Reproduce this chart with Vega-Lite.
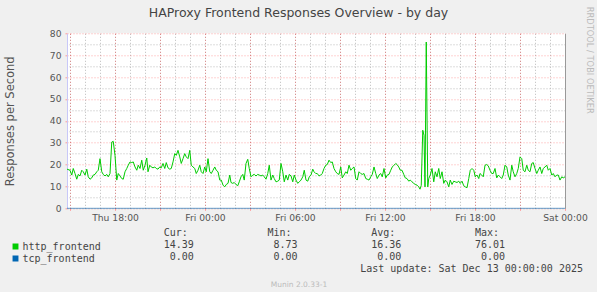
{
"$schema": "https://vega.github.io/schema/vega-lite/v6.json",
"autosize": {"type": "none"},
"width": 498,
"height": 175,
"padding": {"left": 67, "top": 33.3, "right": 32, "bottom": 83.7},
"background": "#F0F0F0",
"config": {"view": {"stroke": null, "fill": "#FFFFFF"}, "font": "DejaVu Sans"},
"title": {"text": "HAProxy Frontend Responses Overview - by day", "fontSize": 12.5, "fontWeight": "normal", "color": "#444444", "font": "DejaVu Sans", "anchor": "middle", "frame": "group", "dx": -17.5, "baseline": "alphabetic", "offset": -23},
"datasets": {
"tcp": [{"t": "2025-12-11T14:48:00Z", "v": 0}, {"t": "2025-12-13T00:00:00Z", "v": 0}],
"http": [
{"t":"2025-12-11T14:48:00Z","v":17.9},{"t":"2025-12-11T15:00:00Z","v":17.4},{"t":"2025-12-11T15:07:00Z","v":15.2},{"t":"2025-12-11T15:13:00Z","v":18.2},{"t":"2025-12-11T15:20:00Z","v":15.9},{"t":"2025-12-11T15:27:00Z","v":13.3},{"t":"2025-12-11T15:33:00Z","v":15.5},{"t":"2025-12-11T15:40:00Z","v":14.8},{"t":"2025-12-11T15:47:00Z","v":17.4},{"t":"2025-12-11T15:53:00Z","v":16.7},
{"t":"2025-12-11T16:00:00Z","v":15.2},{"t":"2025-12-11T16:07:00Z","v":17.9},{"t":"2025-12-11T16:13:00Z","v":14.4},{"t":"2025-12-11T16:20:00Z","v":13.3},{"t":"2025-12-11T16:27:00Z","v":13.9},{"t":"2025-12-11T16:33:00Z","v":15.2},{"t":"2025-12-11T16:40:00Z","v":15.5},{"t":"2025-12-11T16:47:00Z","v":16.7},{"t":"2025-12-11T16:53:00Z","v":17.4},
{"t":"2025-12-11T17:00:00Z","v":22.7},{"t":"2025-12-11T17:07:00Z","v":16.7},{"t":"2025-12-11T17:13:00Z","v":15.5},{"t":"2025-12-11T17:20:00Z","v":14.8},{"t":"2025-12-11T17:27:00Z","v":15.5},{"t":"2025-12-11T17:33:00Z","v":14.4},{"t":"2025-12-11T17:40:00Z","v":15.9},{"t":"2025-12-11T17:47:00Z","v":30.3},{"t":"2025-12-11T17:53:00Z","v":30.6},
{"t":"2025-12-11T18:00:00Z","v":24.2},{"t":"2025-12-11T18:07:00Z","v":12.9},{"t":"2025-12-11T18:13:00Z","v":15.9},{"t":"2025-12-11T18:20:00Z","v":14.8},{"t":"2025-12-11T18:27:00Z","v":13.6},{"t":"2025-12-11T18:33:00Z","v":13.3},{"t":"2025-12-11T18:40:00Z","v":16.7},{"t":"2025-12-11T18:47:00Z","v":18.2},{"t":"2025-12-11T18:53:00Z","v":19.7},
{"t":"2025-12-11T19:00:00Z","v":21.2},{"t":"2025-12-11T19:07:00Z","v":20.9},{"t":"2025-12-11T19:13:00Z","v":21.2},{"t":"2025-12-11T19:20:00Z","v":18.9},{"t":"2025-12-11T19:27:00Z","v":17.4},{"t":"2025-12-11T19:33:00Z","v":19.7},{"t":"2025-12-11T19:40:00Z","v":18.2},{"t":"2025-12-11T19:47:00Z","v":22},{"t":"2025-12-11T19:53:00Z","v":17.4},
{"t":"2025-12-11T20:00:00Z","v":19.7},{"t":"2025-12-11T20:07:00Z","v":23},{"t":"2025-12-11T20:12:00Z","v":16.7},{"t":"2025-12-11T20:19:00Z","v":19.7},{"t":"2025-12-11T20:25:00Z","v":18.9},{"t":"2025-12-11T20:32:00Z","v":18.5},{"t":"2025-12-11T20:39:00Z","v":18.9},{"t":"2025-12-11T20:45:00Z","v":18.2},{"t":"2025-12-11T20:52:00Z","v":17.9},{"t":"2025-12-11T20:59:00Z","v":18.9},
{"t":"2025-12-11T21:05:00Z","v":18.5},{"t":"2025-12-11T21:12:00Z","v":20.5},{"t":"2025-12-11T21:19:00Z","v":18.2},{"t":"2025-12-11T21:25:00Z","v":20.9},{"t":"2025-12-11T21:32:00Z","v":18.5},{"t":"2025-12-11T21:39:00Z","v":17.9},{"t":"2025-12-11T21:45:00Z","v":18.2},{"t":"2025-12-11T21:52:00Z","v":21.2},{"t":"2025-12-11T21:59:00Z","v":25},
{"t":"2025-12-11T22:05:00Z","v":24.2},{"t":"2025-12-11T22:12:00Z","v":26.5},{"t":"2025-12-11T22:19:00Z","v":23.5},{"t":"2025-12-11T22:25:00Z","v":20.5},{"t":"2025-12-11T22:32:00Z","v":22.7},{"t":"2025-12-11T22:39:00Z","v":25},{"t":"2025-12-11T22:45:00Z","v":23.5},{"t":"2025-12-11T22:52:00Z","v":22.7},{"t":"2025-12-11T22:59:00Z","v":26.5},
{"t":"2025-12-11T23:05:00Z","v":19.7},{"t":"2025-12-11T23:12:00Z","v":18.9},{"t":"2025-12-11T23:19:00Z","v":18.2},{"t":"2025-12-11T23:25:00Z","v":15.9},{"t":"2025-12-11T23:32:00Z","v":17.4},{"t":"2025-12-11T23:39:00Z","v":19.7},{"t":"2025-12-11T23:45:00Z","v":16.7},{"t":"2025-12-11T23:52:00Z","v":15.9},{"t":"2025-12-11T23:59:00Z","v":18.9},
{"t":"2025-12-12T00:05:00Z","v":16.7},{"t":"2025-12-12T00:12:00Z","v":22.7},{"t":"2025-12-12T00:19:00Z","v":16.7},{"t":"2025-12-12T00:25:00Z","v":15.9},{"t":"2025-12-12T00:32:00Z","v":17.4},{"t":"2025-12-12T00:39:00Z","v":18.9},{"t":"2025-12-12T00:45:00Z","v":17.4},{"t":"2025-12-12T00:52:00Z","v":16.7},{"t":"2025-12-12T00:59:00Z","v":12.9},
{"t":"2025-12-12T01:05:00Z","v":12.9},{"t":"2025-12-12T01:12:00Z","v":10.6},{"t":"2025-12-12T01:19:00Z","v":9.8},{"t":"2025-12-12T01:25:00Z","v":10.9},{"t":"2025-12-12T01:32:00Z","v":11.4},{"t":"2025-12-12T01:39:00Z","v":15.2},{"t":"2025-12-12T01:44:00Z","v":11.8},{"t":"2025-12-12T01:51:00Z","v":11.4},{"t":"2025-12-12T01:57:00Z","v":11.8},
{"t":"2025-12-12T02:04:00Z","v":10.9},{"t":"2025-12-12T02:11:00Z","v":10.3},{"t":"2025-12-12T02:17:00Z","v":12.1},{"t":"2025-12-12T02:24:00Z","v":14.4},{"t":"2025-12-12T02:31:00Z","v":15.5},{"t":"2025-12-12T02:37:00Z","v":12.9},{"t":"2025-12-12T02:44:00Z","v":20.5},{"t":"2025-12-12T02:51:00Z","v":22.4},{"t":"2025-12-12T02:57:00Z","v":18.2},
{"t":"2025-12-12T03:04:00Z","v":14.4},{"t":"2025-12-12T03:11:00Z","v":15.2},{"t":"2025-12-12T03:17:00Z","v":15.5},{"t":"2025-12-12T03:24:00Z","v":14.8},{"t":"2025-12-12T03:31:00Z","v":15.5},{"t":"2025-12-12T03:37:00Z","v":15.2},{"t":"2025-12-12T03:44:00Z","v":14.8},{"t":"2025-12-12T03:51:00Z","v":15.2},{"t":"2025-12-12T03:57:00Z","v":14.4},
{"t":"2025-12-12T04:04:00Z","v":13.3},{"t":"2025-12-12T04:11:00Z","v":15.9},{"t":"2025-12-12T04:17:00Z","v":19.7},{"t":"2025-12-12T04:24:00Z","v":12.9},{"t":"2025-12-12T04:31:00Z","v":15.2},{"t":"2025-12-12T04:37:00Z","v":13.6},{"t":"2025-12-12T04:44:00Z","v":12.1},{"t":"2025-12-12T04:51:00Z","v":12.4},{"t":"2025-12-12T04:57:00Z","v":12.9},
{"t":"2025-12-12T05:04:00Z","v":20.5},{"t":"2025-12-12T05:11:00Z","v":16.7},{"t":"2025-12-12T05:17:00Z","v":12.1},{"t":"2025-12-12T05:24:00Z","v":15.2},{"t":"2025-12-12T05:31:00Z","v":12.9},{"t":"2025-12-12T05:37:00Z","v":15.5},{"t":"2025-12-12T05:44:00Z","v":14.8},{"t":"2025-12-12T05:51:00Z","v":12.1},{"t":"2025-12-12T05:57:00Z","v":15.2},
{"t":"2025-12-12T06:04:00Z","v":12.9},{"t":"2025-12-12T06:11:00Z","v":11.4},{"t":"2025-12-12T06:17:00Z","v":12.1},{"t":"2025-12-12T06:24:00Z","v":12.9},{"t":"2025-12-12T06:31:00Z","v":14.4},{"t":"2025-12-12T06:37:00Z","v":17.4},{"t":"2025-12-12T06:44:00Z","v":12.9},{"t":"2025-12-12T06:51:00Z","v":12.4},{"t":"2025-12-12T06:57:00Z","v":14.4},
{"t":"2025-12-12T07:04:00Z","v":15.2},{"t":"2025-12-12T07:11:00Z","v":17.9},{"t":"2025-12-12T07:16:00Z","v":16.7},{"t":"2025-12-12T07:23:00Z","v":15.9},{"t":"2025-12-12T07:29:00Z","v":15.9},{"t":"2025-12-12T07:36:00Z","v":14.8},{"t":"2025-12-12T07:43:00Z","v":15.2},{"t":"2025-12-12T07:49:00Z","v":15.9},{"t":"2025-12-12T07:56:00Z","v":18.2},
{"t":"2025-12-12T08:03:00Z","v":19.7},{"t":"2025-12-12T08:09:00Z","v":20},{"t":"2025-12-12T08:16:00Z","v":22},{"t":"2025-12-12T08:23:00Z","v":20.9},{"t":"2025-12-12T08:29:00Z","v":21.2},{"t":"2025-12-12T08:36:00Z","v":18.2},{"t":"2025-12-12T08:43:00Z","v":16.7},{"t":"2025-12-12T08:49:00Z","v":15.9},{"t":"2025-12-12T08:56:00Z","v":15.5},
{"t":"2025-12-12T09:03:00Z","v":18.9},{"t":"2025-12-12T09:09:00Z","v":13.9},{"t":"2025-12-12T09:16:00Z","v":15.2},{"t":"2025-12-12T09:23:00Z","v":16.7},{"t":"2025-12-12T09:29:00Z","v":15.9},{"t":"2025-12-12T09:36:00Z","v":19.7},{"t":"2025-12-12T09:43:00Z","v":17.4},{"t":"2025-12-12T09:49:00Z","v":18.2},{"t":"2025-12-12T09:56:00Z","v":18.9},
{"t":"2025-12-12T10:03:00Z","v":13.6},{"t":"2025-12-12T10:09:00Z","v":12.9},{"t":"2025-12-12T10:16:00Z","v":16.7},{"t":"2025-12-12T10:23:00Z","v":15.9},{"t":"2025-12-12T10:29:00Z","v":15.5},{"t":"2025-12-12T10:36:00Z","v":15.9},{"t":"2025-12-12T10:43:00Z","v":13.6},{"t":"2025-12-12T10:49:00Z","v":13.3},{"t":"2025-12-12T10:56:00Z","v":12.9},
{"t":"2025-12-12T11:03:00Z","v":14.4},{"t":"2025-12-12T11:09:00Z","v":15.5},{"t":"2025-12-12T11:16:00Z","v":18.9},{"t":"2025-12-12T11:23:00Z","v":15.9},{"t":"2025-12-12T11:29:00Z","v":13.6},{"t":"2025-12-12T11:36:00Z","v":15.2},{"t":"2025-12-12T11:43:00Z","v":15.9},{"t":"2025-12-12T11:49:00Z","v":14.4},{"t":"2025-12-12T11:56:00Z","v":18.2},
{"t":"2025-12-12T12:03:00Z","v":13.9},{"t":"2025-12-12T12:09:00Z","v":15.2},{"t":"2025-12-12T12:16:00Z","v":15.5},{"t":"2025-12-12T12:23:00Z","v":17.4},{"t":"2025-12-12T12:29:00Z","v":18.9},{"t":"2025-12-12T12:36:00Z","v":19.7},{"t":"2025-12-12T12:43:00Z","v":20.5},{"t":"2025-12-12T12:48:00Z","v":20},{"t":"2025-12-12T12:55:00Z","v":18.9},
{"t":"2025-12-12T13:01:00Z","v":17.4},{"t":"2025-12-12T13:08:00Z","v":17.4},{"t":"2025-12-12T13:15:00Z","v":15.5},{"t":"2025-12-12T13:21:00Z","v":13.9},{"t":"2025-12-12T13:28:00Z","v":13.6},{"t":"2025-12-12T13:35:00Z","v":12.4},{"t":"2025-12-12T13:41:00Z","v":12.9},{"t":"2025-12-12T13:48:00Z","v":12.1},{"t":"2025-12-12T13:55:00Z","v":11.4},
{"t":"2025-12-12T14:01:00Z","v":10.9},{"t":"2025-12-12T14:08:00Z","v":10.6},{"t":"2025-12-12T14:15:00Z","v":9.8},{"t":"2025-12-12T14:20:00Z","v":8.73},{"t":"2025-12-12T14:25:00Z","v":10.5},{"t":"2025-12-12T14:31:00Z","v":35.7},{"t":"2025-12-12T14:36:00Z","v":33.4},{"t":"2025-12-12T14:40:00Z","v":9.8},{"t":"2025-12-12T14:45:00Z","v":76.01},{"t":"2025-12-12T14:51:00Z","v":9.8},{"t":"2025-12-12T14:55:00Z","v":13.6},
{"t":"2025-12-12T15:01:00Z","v":15.2},{"t":"2025-12-12T15:08:00Z","v":18.2},{"t":"2025-12-12T15:15:00Z","v":12.1},{"t":"2025-12-12T15:21:00Z","v":16.7},{"t":"2025-12-12T15:28:00Z","v":14.4},{"t":"2025-12-12T15:35:00Z","v":18.2},{"t":"2025-12-12T15:41:00Z","v":13.6},{"t":"2025-12-12T15:48:00Z","v":16.7},{"t":"2025-12-12T15:55:00Z","v":11.4},
{"t":"2025-12-12T16:01:00Z","v":12.9},{"t":"2025-12-12T16:08:00Z","v":12.1},{"t":"2025-12-12T16:15:00Z","v":9.8},{"t":"2025-12-12T16:21:00Z","v":12.9},{"t":"2025-12-12T16:28:00Z","v":10.9},{"t":"2025-12-12T16:35:00Z","v":12.4},{"t":"2025-12-12T16:41:00Z","v":12.1},{"t":"2025-12-12T16:48:00Z","v":11.8},{"t":"2025-12-12T16:55:00Z","v":12.4},
{"t":"2025-12-12T17:01:00Z","v":11.4},{"t":"2025-12-12T17:08:00Z","v":12.4},{"t":"2025-12-12T17:15:00Z","v":10.3},{"t":"2025-12-12T17:21:00Z","v":9.8},{"t":"2025-12-12T17:28:00Z","v":9.4},{"t":"2025-12-12T17:35:00Z","v":13.6},{"t":"2025-12-12T17:41:00Z","v":17.4},{"t":"2025-12-12T17:48:00Z","v":18.2},{"t":"2025-12-12T17:55:00Z","v":17.4},
{"t":"2025-12-12T18:01:00Z","v":14.4},{"t":"2025-12-12T18:08:00Z","v":15.2},{"t":"2025-12-12T18:15:00Z","v":13.6},{"t":"2025-12-12T18:20:00Z","v":15.9},{"t":"2025-12-12T18:27:00Z","v":15.2},{"t":"2025-12-12T18:33:00Z","v":14.4},{"t":"2025-12-12T18:40:00Z","v":19.7},{"t":"2025-12-12T18:47:00Z","v":20},{"t":"2025-12-12T18:53:00Z","v":19.4},
{"t":"2025-12-12T19:00:00Z","v":17.4},{"t":"2025-12-12T19:07:00Z","v":15.9},{"t":"2025-12-12T19:13:00Z","v":15.9},{"t":"2025-12-12T19:20:00Z","v":18.2},{"t":"2025-12-12T19:27:00Z","v":13.9},{"t":"2025-12-12T19:33:00Z","v":15.2},{"t":"2025-12-12T19:40:00Z","v":14.4},{"t":"2025-12-12T19:47:00Z","v":13.6},{"t":"2025-12-12T19:53:00Z","v":15.2},
{"t":"2025-12-12T20:00:00Z","v":19.7},{"t":"2025-12-12T20:07:00Z","v":18.9},{"t":"2025-12-12T20:13:00Z","v":15.2},{"t":"2025-12-12T20:20:00Z","v":12.9},{"t":"2025-12-12T20:27:00Z","v":19.7},{"t":"2025-12-12T20:33:00Z","v":16.7},{"t":"2025-12-12T20:40:00Z","v":14.4},{"t":"2025-12-12T20:47:00Z","v":15.9},{"t":"2025-12-12T20:53:00Z","v":18.2},
{"t":"2025-12-12T21:00:00Z","v":23.5},{"t":"2025-12-12T21:07:00Z","v":22.7},{"t":"2025-12-12T21:13:00Z","v":17.4},{"t":"2025-12-12T21:20:00Z","v":16.7},{"t":"2025-12-12T21:27:00Z","v":19.7},{"t":"2025-12-12T21:33:00Z","v":17.4},{"t":"2025-12-12T21:40:00Z","v":16.7},{"t":"2025-12-12T21:47:00Z","v":20.5},{"t":"2025-12-12T21:53:00Z","v":20.9},
{"t":"2025-12-12T22:00:00Z","v":18.2},{"t":"2025-12-12T22:07:00Z","v":15.9},{"t":"2025-12-12T22:13:00Z","v":17.4},{"t":"2025-12-12T22:20:00Z","v":18.9},{"t":"2025-12-12T22:27:00Z","v":15.9},{"t":"2025-12-12T22:33:00Z","v":18.2},{"t":"2025-12-12T22:40:00Z","v":18.9},{"t":"2025-12-12T22:47:00Z","v":19.7},{"t":"2025-12-12T22:53:00Z","v":17.4},
{"t":"2025-12-12T23:00:00Z","v":18.2},{"t":"2025-12-12T23:07:00Z","v":15.2},{"t":"2025-12-12T23:13:00Z","v":15.9},{"t":"2025-12-12T23:20:00Z","v":14.4},{"t":"2025-12-12T23:27:00Z","v":15.2},{"t":"2025-12-12T23:33:00Z","v":15.2},{"t":"2025-12-12T23:40:00Z","v":12.9},{"t":"2025-12-12T23:47:00Z","v":14.4},{"t":"2025-12-12T23:53:00Z","v":13.9},
{"t":"2025-12-13T00:00:00Z","v":14.39}
],
"hdr": [{"s": "header", "k": "Cur", "txt": "Cur:"}, {"s": "header", "k": "Min", "txt": "Min:"}, {"s": "header", "k": "Avg", "txt": "Avg:"}, {"s": "header", "k": "Max", "txt": "Max:"}],
"vals": [
{"s": "http_frontend", "k": "Cur", "txt": "14.39"}, {"s": "http_frontend", "k": "Min", "txt": "8.73"}, {"s": "http_frontend", "k": "Avg", "txt": "16.36"}, {"s": "http_frontend", "k": "Max", "txt": "76.01"},
{"s": "tcp_frontend", "k": "Cur", "txt": "0.00"}, {"s": "tcp_frontend", "k": "Min", "txt": "0.00"}, {"s": "tcp_frontend", "k": "Avg", "txt": "0.00"}, {"s": "tcp_frontend", "k": "Max", "txt": "0.00"}
],
"upd": [{"s": "update", "k": "Max", "txt": "Last update: Sat Dec 13 00:00:00 2025"}]
},
"layer": [
{
"layer": [
{
"data": {"name": "tcp"},
"mark": {"type": "line", "strokeWidth": 1, "strokeOpacity": 0.6},
"encoding": {
"x": {"field": "t", "type": "temporal",
"scale": {"type": "utc", "nice": false, "domain": [{"year": 2025, "month": 12, "date": 11, "hours": 14, "minutes": 48, "utc": true}, {"year": 2025, "month": 12, "date": 13, "hours": 0, "minutes": 0, "utc": true}]},
"axis": {"orient": "top", "values": [
{"year":2025,"month":12,"date":11,"hours":15,"utc":true},{"year":2025,"month":12,"date":11,"hours":16,"utc":true},{"year":2025,"month":12,"date":11,"hours":17,"utc":true},{"year":2025,"month":12,"date":11,"hours":18,"utc":true},{"year":2025,"month":12,"date":11,"hours":19,"utc":true},{"year":2025,"month":12,"date":11,"hours":20,"utc":true},{"year":2025,"month":12,"date":11,"hours":21,"utc":true},{"year":2025,"month":12,"date":11,"hours":22,"utc":true},{"year":2025,"month":12,"date":11,"hours":23,"utc":true},
{"year":2025,"month":12,"date":12,"hours":0,"utc":true},{"year":2025,"month":12,"date":12,"hours":1,"utc":true},{"year":2025,"month":12,"date":12,"hours":2,"utc":true},{"year":2025,"month":12,"date":12,"hours":3,"utc":true},{"year":2025,"month":12,"date":12,"hours":4,"utc":true},{"year":2025,"month":12,"date":12,"hours":5,"utc":true},{"year":2025,"month":12,"date":12,"hours":6,"utc":true},{"year":2025,"month":12,"date":12,"hours":7,"utc":true},{"year":2025,"month":12,"date":12,"hours":8,"utc":true},{"year":2025,"month":12,"date":12,"hours":9,"utc":true},{"year":2025,"month":12,"date":12,"hours":10,"utc":true},{"year":2025,"month":12,"date":12,"hours":11,"utc":true},
{"year":2025,"month":12,"date":12,"hours":12,"utc":true},{"year":2025,"month":12,"date":12,"hours":13,"utc":true},{"year":2025,"month":12,"date":12,"hours":14,"utc":true},{"year":2025,"month":12,"date":12,"hours":15,"utc":true},{"year":2025,"month":12,"date":12,"hours":16,"utc":true},{"year":2025,"month":12,"date":12,"hours":17,"utc":true},{"year":2025,"month":12,"date":12,"hours":18,"utc":true},{"year":2025,"month":12,"date":12,"hours":19,"utc":true},{"year":2025,"month":12,"date":12,"hours":20,"utc":true},{"year":2025,"month":12,"date":12,"hours":21,"utc":true},{"year":2025,"month":12,"date":12,"hours":22,"utc":true},{"year":2025,"month":12,"date":12,"hours":23,"utc":true}
], "grid": true, "gridColor": "#bbbbbb", "gridDash": [1, 2], "labels": false, "ticks": false, "domain": false, "title": null}},
"y": {"field": "v", "type": "quantitative", "scale": {"domain": [0, 80], "nice": false},
"axis": {"orient": "right", "values": [5, 15, 25, 35, 45, 55, 65, 75], "grid": true, "gridColor": "#bbbbbb", "gridDash": [1, 2], "labels": false, "ticks": false, "domain": true, "domainColor": "#999999",
"title": "RRDTOOL / TOBI OETIKER", "titleX": 23, "titleY": -27, "titleAngle": 90, "titleAlign": "left", "titleBaseline": "middle", "titleFontSize": 8.3, "titleFontWeight": "normal", "titleColor": "#bbbbbb", "titleFont": "DejaVu Sans"}},
"color": {"datum": "tcp_frontend", "type": "nominal",
"scale": {"domain": ["http_frontend", "tcp_frontend"], "range": ["#00CC00", "#0066B3"]},
"legend": {"orient": "none", "legendX": -56.5, "legendY": 207.2, "title": null, "symbolType": "square", "symbolSize": 2, "symbolStrokeWidth": 4.5, "symbolOpacity": 1, "labelFont": "DejaVu Sans Mono", "labelFontSize": 10, "labelColor": "#444444", "labelOffset": 2, "clipHeight": 12, "rowPadding": 0, "padding": 0}}
}
},
{
"data": {"name": "http"},
"mark": {"type": "line", "strokeWidth": 1},
"encoding": {
"x": {"field": "t", "type": "temporal",
"axis": {"orient": "bottom", "values": [
{"year":2025,"month":12,"date":11,"hours":15,"utc":true},{"year":2025,"month":12,"date":11,"hours":18,"utc":true},{"year":2025,"month":12,"date":11,"hours":21,"utc":true},{"year":2025,"month":12,"date":12,"hours":0,"utc":true},{"year":2025,"month":12,"date":12,"hours":3,"utc":true},{"year":2025,"month":12,"date":12,"hours":6,"utc":true},{"year":2025,"month":12,"date":12,"hours":9,"utc":true},{"year":2025,"month":12,"date":12,"hours":12,"utc":true},{"year":2025,"month":12,"date":12,"hours":15,"utc":true},{"year":2025,"month":12,"date":12,"hours":18,"utc":true},{"year":2025,"month":12,"date":12,"hours":21,"utc":true},{"year":2025,"month":12,"date":13,"hours":0,"utc":true}
], "grid": true, "gridColor": "#ff0000", "gridOpacity": 0.35, "gridDash": [1, 2], "domain": false, "ticks": true, "tickSize": 2, "tickColor": "#ff9999",
"labelExpr": "utchours(datum.value) % 6 == 0 ? utcFormat(datum.value, '%a %H:%M') : ''", "labelFont": "DejaVu Sans", "labelFontSize": 9.2, "labelColor": "#555555", "labelPadding": 3, "labelOverlap": false, "labelFlush": false,
"title": "Munin 2.0.33-1", "titleX": 231.5, "titleY": 75.7, "titleAlign": "center", "titleBaseline": "middle", "titleFontSize": 7.5, "titleFontWeight": "normal", "titleColor": "#bbbbbb", "titleFont": "DejaVu Sans"}},
"y": {"field": "v", "type": "quantitative",
"axis": {"orient": "left", "values": [0, 10, 20, 30, 40, 50, 60, 70, 80], "grid": true, "gridColor": "#ff0000", "gridOpacity": 0.35, "gridDash": [1, 2], "domain": true, "domainColor": "#C8C8F8", "ticks": true, "tickSize": 2, "tickColor": "#ff9999",
"labelFont": "DejaVu Sans", "labelFontSize": 9.2, "labelColor": "#555555", "labelPadding": 4,
"title": "Responses per Second", "titleX": -57, "titleY": 87.5, "titleBaseline": "middle", "titleFontSize": 11.5, "titleFontWeight": "normal", "titleColor": "#555555", "titleFont": "DejaVu Sans"}},
"color": {"datum": "http_frontend", "type": "nominal"}
}
}
],
"resolve": {"axis": {"x": "independent", "y": "independent"}}
},
{
"layer": [
{"data": {"name": "hdr"}, "mark": {"type": "text", "align": "right", "baseline": "middle", "font": "DejaVu Sans Mono", "fontSize": 10, "color": "#444444", "dx": -6},
 "encoding": {"x": {"field": "k", "type": "nominal", "bandPosition": 1, "scale": {"type": "band", "domain": ["Cur", "Min", "Avg", "Max"], "range": [23, 438], "paddingInner": 0, "paddingOuter": 0}, "axis": null},
 "y": {"field": "s", "type": "nominal", "scale": {"type": "band", "domain": ["header", "http_frontend", "tcp_frontend", "update"], "range": [194, 242], "paddingInner": 0, "paddingOuter": 0}, "axis": null},
 "text": {"field": "txt"}}},
{"data": {"name": "vals"}, "mark": {"type": "text", "align": "right", "baseline": "middle", "font": "DejaVu Sans Mono", "fontSize": 10, "color": "#444444"},
 "encoding": {"x": {"field": "k", "type": "nominal", "bandPosition": 1, "axis": null}, "y": {"field": "s", "type": "nominal", "axis": null}, "text": {"field": "txt"}}},
{"data": {"name": "upd"}, "mark": {"type": "text", "align": "right", "baseline": "middle", "font": "DejaVu Sans Mono", "fontSize": 10, "color": "#444444", "dx": 78},
 "encoding": {"x": {"field": "k", "type": "nominal", "bandPosition": 1, "axis": null}, "y": {"field": "s", "type": "nominal", "axis": null}, "text": {"field": "txt"}}}
]
}
],
"resolve": {"scale": {"x": "independent", "y": "independent"}}
}
